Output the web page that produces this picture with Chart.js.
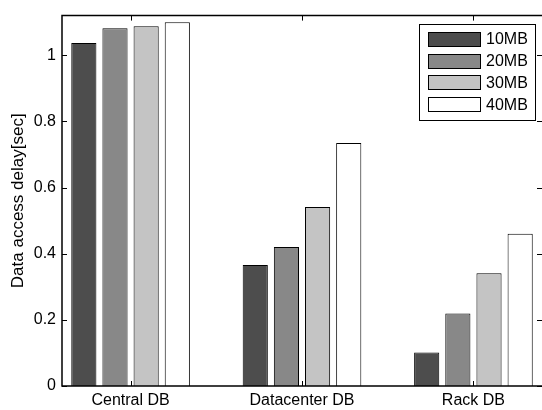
<!DOCTYPE html>
<html>
<head>
<meta charset="utf-8">
<script src="https://cdn.jsdelivr.net/npm/chart.js@4.4.0/dist/chart.umd.min.js"></script>
<style>
  html, body { margin: 0; padding: 0; background: #fff; }
  #wrap { width: 542px; height: 410px; }
</style>
</head>
<body>
<div id="wrap"><canvas id="delayChart" width="542" height="410"></canvas></div>
<script>
const categories = ['Central DB', 'Datacenter DB', 'Rack DB'];
const sizeLabels = ['10MB', '20MB', '30MB', '40MB'];
const delay10MB = [1.037, 0.366, 0.101];
const delay20MB = [1.082, 0.420, 0.219];
const delay30MB = [1.088, 0.541, 0.341];
const delay40MB = [1.100, 0.735, 0.460];
const yTickValues = [0, 0.2, 0.4, 0.6, 0.8, 1];
const yTickLabels = ['0', '0.2', '0.4', '0.6', '0.8', '1'];

const barColors = ['#4d4d4d', '#888888', '#c4c4c4', '#ffffff'];

Chart.defaults.font.family = "'Liberation Sans', Arial, sans-serif";
Chart.defaults.color = '#000';

const seriesValues = [delay10MB, delay20MB, delay30MB, delay40MB];
const datasets = sizeLabels.map((label, i) => ({
    label: label,
    data: seriesValues[i].map((v, j) => ({ x: j + 1, y: v })),
    backgroundColor: barColors[i],
    borderColor: '#000',
    borderWidth: 1,
    categoryPercentage: 0.727,
    barPercentage: 0.807
}));

// matlab style box with inward ticks
const axesBox = {
    id: 'axesBox',
    beforeDatasetsDraw(chart) {
        const { ctx, chartArea: a, scales: { x, y } } = chart;
        ctx.save();
        ctx.strokeStyle = '#000';
        ctx.lineWidth = 1;
        ctx.beginPath();
        yTickValues.forEach(v => {
            const py = Math.round(y.getPixelForValue(v)) + 0.5;
            ctx.moveTo(a.left, py); ctx.lineTo(a.left + 5, py);
            ctx.moveTo(a.right, py); ctx.lineTo(a.right - 5, py);
        });
        categories.forEach((c, i) => {
            const px = Math.round(x.getPixelForValue(i + 1)) + 0.5;
            ctx.moveTo(px, a.bottom); ctx.lineTo(px, a.bottom - 5);
            ctx.moveTo(px, a.top); ctx.lineTo(px, a.top + 5);
        });
        ctx.stroke();
        ctx.restore();
    },
    afterDatasetsDraw(chart) {
        const { ctx, chartArea: a } = chart;
        ctx.save();
        ctx.strokeStyle = '#000';
        ctx.lineWidth = 1.5;
        ctx.beginPath();
        ctx.moveTo(a.right + 1, a.top);
        ctx.lineTo(a.left, a.top);
        ctx.lineTo(a.left, a.bottom);
        ctx.lineTo(a.right + 1, a.bottom);
        ctx.stroke();
        ctx.restore();
    }
};

// legend box in the top right corner
const boxLegend = {
    id: 'boxLegend',
    afterDraw(chart) {
        const { ctx, chartArea: a } = chart;
        const w = 116, h = 96;
        const left = a.right - 7 - w, top = a.top + 8;
        ctx.save();
        ctx.fillStyle = '#fff';
        ctx.fillRect(left, top, w, h);
        ctx.strokeStyle = '#000';
        ctx.lineWidth = 1;
        ctx.strokeRect(Math.round(left) + 0.5, Math.round(top) + 0.5, w, h);
        ctx.font = "16px 'Liberation Sans', Arial, sans-serif";
        ctx.textBaseline = 'middle';
        ctx.textAlign = 'left';
        chart.data.datasets.forEach((ds, i) => {
            const cy = top + 15 + i * 21.9;
            const sx = Math.round(left + 9) + 0.5, sy = Math.round(cy - 7) + 0.5;
            ctx.fillStyle = ds.backgroundColor;
            ctx.fillRect(sx, sy, 52, 14);
            ctx.strokeRect(sx, sy, 52, 14);
            ctx.fillStyle = '#000';
            ctx.fillText(ds.label, left + 67, cy + 1);
        });
        ctx.restore();
    }
};

new Chart(document.getElementById('delayChart'), {
    type: 'bar',
    data: { datasets: datasets },
    options: {
        responsive: false,
        animation: false,
        devicePixelRatio: 1,
        layout: { padding: { top: 11, right: 0, left: 0, bottom: 0 } },
        plugins: {
            legend: { display: false },
            tooltip: { enabled: false }
        },
        scales: {
            x: {
                type: 'linear',
                min: 0.6,
                max: 3.4,
                offset: false,
                grid: { display: false, drawTicks: false, offset: false },
                border: { display: false },
                afterBuildTicks: s => { s.ticks = categories.map((c, i) => ({ value: i + 1 })); },
                ticks: {
                    font: { size: 16 },
                    padding: 5,
                    maxRotation: 0,
                    autoSkip: false,
                    callback: (v, i) => categories[i]
                },
                afterFit: s => { s.height = 24; }
            },
            y: {
                min: 0,
                max: 1.12,
                grid: { display: false, drawTicks: false },
                border: { display: false },
                afterBuildTicks: s => { s.ticks = yTickValues.map(v => ({ value: v })); },
                ticks: {
                    font: { size: 16 },
                    padding: 6,
                    callback: (v, i) => yTickLabels[i]
                },
                title: {
                    display: true,
                    text: 'Data access delay[sec]',
                    font: { size: 17 },
                    padding: { top: 8, bottom: 0 }
                },
                afterFit: s => { s.width = 62; }
            }
        }
    },
    plugins: [axesBox, boxLegend]
});
</script>
</body>
</html>
